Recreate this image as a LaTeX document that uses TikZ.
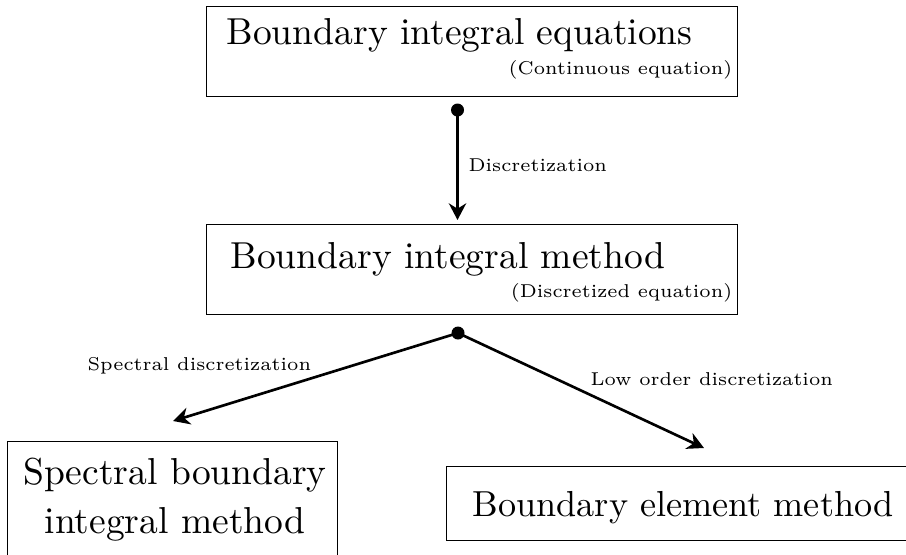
\documentclass[tikz,border=0pt]{standalone}
\usetikzlibrary{arrows.meta}
\begin{document}
\begin{tikzpicture}[x=0.3012pt,y=-0.3012pt,
  box/.style={draw, line width=0.4pt, inner sep=0pt, anchor=north west},
  big/.style={inner sep=0pt, font=\normalsize},
  lab/.style={inner sep=0pt, font=\fontsize{5.6}{7}\selectfont},
  conn/.style={line width=0.8pt, -{Stealth[length=5pt,width=5.2pt,inset=1.6pt]}},
  dotst/.style={fill=black}]
\useasboundingbox (0,0) rectangle (906,554);
\clip (0,0) rectangle (906,554);
% boxes
\node[box, minimum width=531*0.3012pt, minimum height=90*0.3012pt] (b1) at (206,6) {};
\node[box, minimum width=531*0.3012pt, minimum height=90*0.3012pt] (b2) at (206,224) {};
\node[box, minimum width=330*0.3012pt, minimum height=140*0.3012pt] (b3) at (7,441) {};
\node[box, minimum width=600*0.3012pt, minimum height=74*0.3012pt] (b4) at (446,466) {};
% texts
\node[big, anchor=base west] (t1) at (226,44) {\scalebox{1.13}{Boundary integral equations}};
\node[lab, anchor=base east] (s1) at (733,74) {(Continuous equation)};
\node[big, anchor=base west] (t2) at (230,268) {\scalebox{1.13}{Boundary integral method}};
\node[lab, anchor=base east] (s2) at (733,297) {(Discretized equation)};
\node[big, anchor=base] (t3a) at (175,484) {\scalebox{1.13}{Spectral boundary}};
\node[big, anchor=base] (t3b) at (175,533) {\scalebox{1.13}{integral method}};
\node[big, anchor=base west] (t4) at (472,516) {\scalebox{1.09}{Boundary element method}};
% connectors
\coordinate (d1) at (457.5,110);
\coordinate (e1) at (457.5,220);
\coordinate (d2) at (458,333);
\coordinate (e2) at (173,421);
\coordinate (e3) at (704,448);
\fill[dotst] (d1) circle (6.5);
\fill[dotst] (d2) circle (6.5);
\draw[conn] (d1) -- (e1);
\draw[conn] (d2) -- (e2);
\draw[conn] (d2) -- (e3);
\node[lab, anchor=base west] (l1) at (468,171) {Discretization};
\node[lab, anchor=base west] (l2) at (87,370) {Spectral discretization};
\node[lab, anchor=base west] (l3) at (590,385) {Low order discretization};
\end{tikzpicture}
\end{document}
